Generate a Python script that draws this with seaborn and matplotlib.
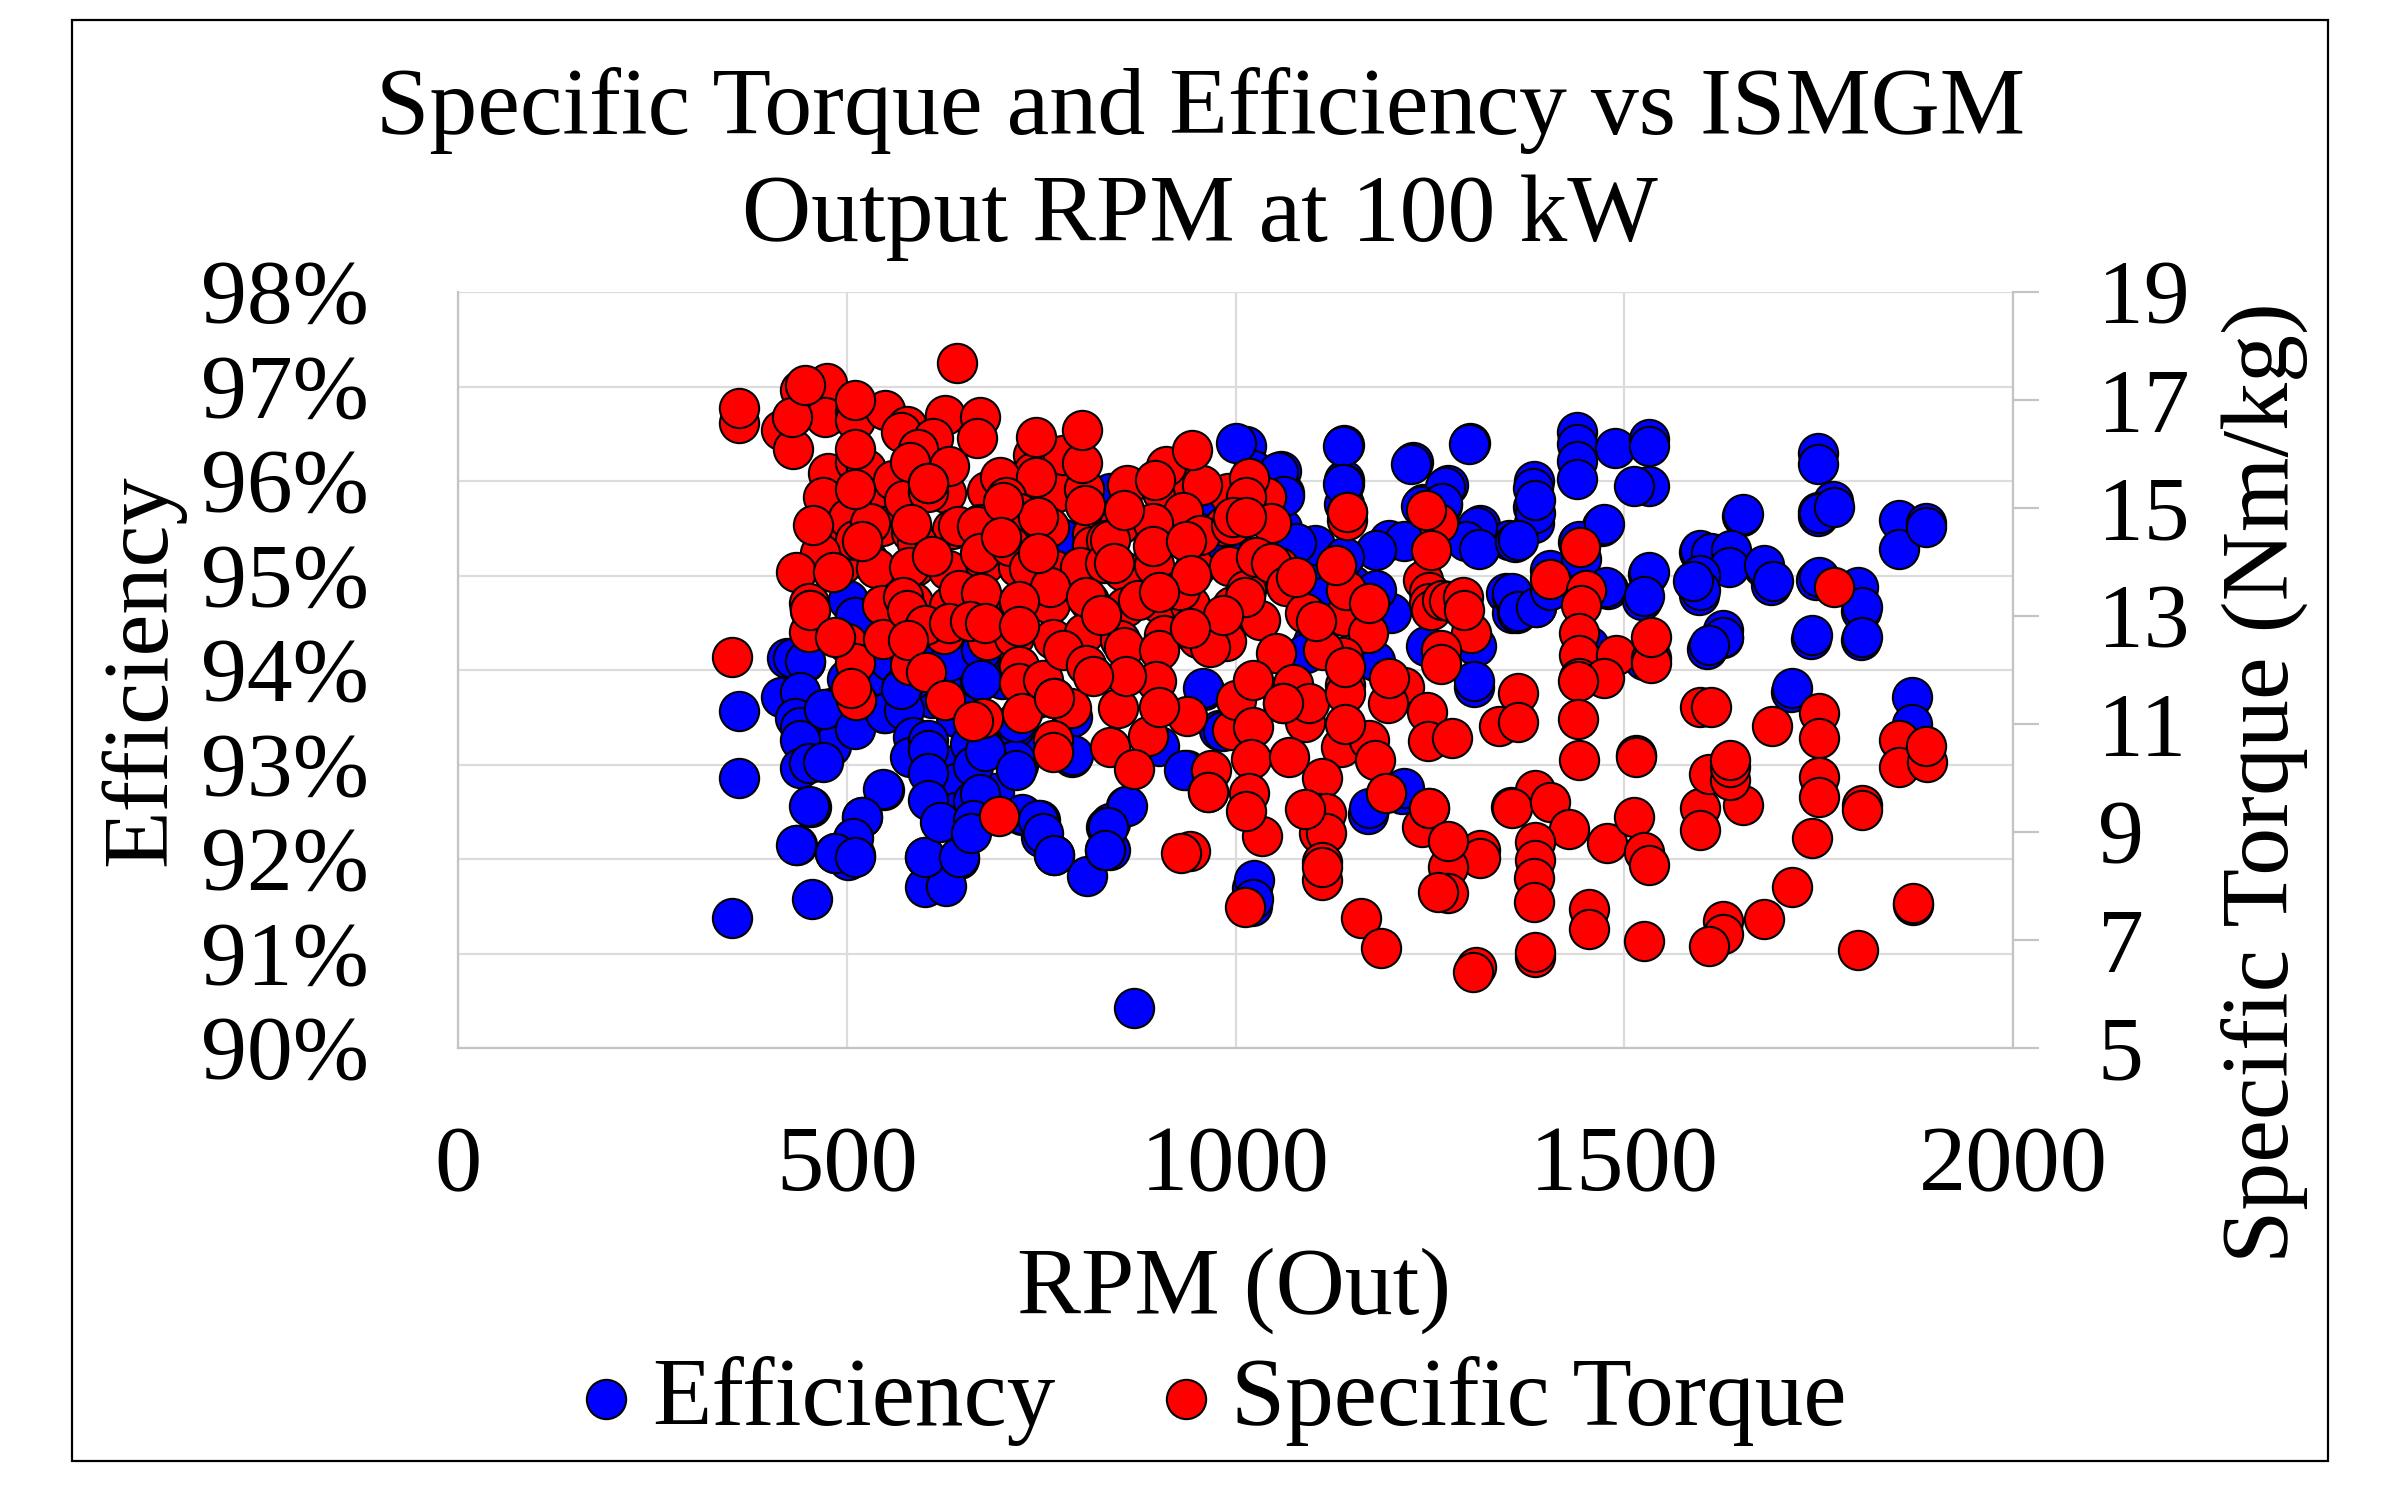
import matplotlib
matplotlib.use('Agg')
import matplotlib.pyplot as plt
from matplotlib.patches import Rectangle
import pandas as pd
import seaborn as sns

# Values, later entries are drawn on top
eff_rpm = [
    530, 555, 610, 640, 660, 690, 700, 745, 745, 790, 610, 585,
    520, 500, 480, 480, 625, 640, 640, 690, 720, 1100, 1150, 1200,
    1260, 1090, 1100, 1180, 1020, 1060,
    1013, 1022, 1059, 1063, 1012, 1139, 1139, 1140, 1140, 1228, 1302, 1273,
    1241, 1266, 1314, 1294, 1314, 1296, 1352, 1197, 1217, 1102, 1078, 994,
    1181, 1140, 1181, 1116, 1348, 1356, 1245, 1309, 1091, 839, 1000, 527,
    776, 960, 987, 960, 790, 901, 979, 717, 717, 501, 511, 423,
    446, 672, 672, 632, 571, 571, 548, 511, 675, 1055, 1062, 1138,
    1138, 1226, 1300, 1270, 1238, 1265, 1310, 1296, 1313, 1360, 1384, 1382,
    1382, 1384, 1439, 1439, 1439, 1439, 1488, 1532, 1532, 1532, 1513, 1472,
    1441, 1406, 1479, 1530, 1523, 1355, 1362, 1386, 1651, 1749, 1749, 1768,
    1749, 1749, 1853, 1853, 1888, 1888, 1627, 1607, 1740, 1804, 1804, 1799,
    1747, 1678, 1689, 1596, 1634, 1596, 1596, 1870, 1870, 1714, 1307, 1214,
    1170, 1021, 1021, 1653, 1750, 1770, 1385, 1385, 1363, 1442, 1474, 1405,
    1444, 1476, 1532, 1525, 1356, 1363, 1386, 1405, 1597, 1611, 1637, 1635,
    1597, 1597, 1588, 1680, 1691, 1750, 1800, 1806, 1806, 1742, 1627, 1627,
    1609, 1716, 1525, 1455, 958, 1307, 937, 984, 859, 838,
    838, 1172, 1217, 1024, 1022, 352, 455, 436, 511, 485, 501, 600,
    644, 600, 628, 767, 809, 832, 834, 860, 870, 725, 749, 750,
    548, 519, 454, 934, 362, 362, 431, 446, 416, 440, 433, 440,
    440, 440, 452, 469, 471, 510, 510, 549, 573, 570, 452, 547,
    520, 435, 508, 485, 510, 600, 645, 585, 581, 605, 605, 605,
    605, 620, 658, 662, 678, 718, 673, 673, 662, 671, 662, 660,
    725, 746, 752, 767, 791, 718, 836, 832,
]
eff_values = [
    93.90, 94.10, 93.70, 93.50, 93.80, 93.30, 93.90, 93.70, 93.20, 93.50, 94.05, 93.90,
    93.60, 93.90, 93.60, 93.20, 93.00, 92.80, 92.50, 92.70, 93.00, 94.70, 94.90, 94.60,
    94.70, 95.10, 94.30, 94.10, 95.70, 95.50,
    96.37, 96.12, 96.11, 95.87, 95.94, 96.38, 96.01, 95.97, 95.76, 96.20, 96.40, 95.96,
    95.76, 95.75, 95.53, 95.41, 95.30, 95.38, 95.38, 95.38, 95.36, 95.32, 95.34, 95.38,
    95.27, 95.20, 94.85, 94.78, 94.81, 94.60, 94.25, 94.25, 94.18, 95.87, 96.40, 95.16,
    95.40, 95.70, 95.20, 93.79, 93.08, 93.20, 93.37, 93.40, 93.05, 94.74, 94.56, 94.13,
    94.08, 94.14, 93.89, 94.10, 93.82, 93.61, 93.54, 93.40, 93.18, 96.09, 95.84, 96.37,
    95.97, 96.18, 96.39, 95.94, 95.74, 95.77, 95.51, 95.37, 95.28, 95.35, 96.00, 95.93,
    95.72, 95.56, 96.52, 96.39, 96.21, 96.02, 96.35, 96.44, 96.37, 95.95, 95.95, 95.52,
    95.35, 95.04, 94.86, 95.02, 94.74, 94.78, 94.60, 94.67, 95.63, 96.30, 96.18, 95.79,
    95.67, 95.63, 95.59, 95.28, 95.56, 95.51, 94.34, 94.22, 94.33, 94.32, 94.62, 94.83,
    94.95, 95.09, 94.90, 95.25, 95.25, 94.97, 94.79, 93.71, 93.43, 93.77, 93.82, 92.69,
    92.48, 91.69, 91.50, 95.65, 95.66, 95.73, 95.66, 95.80, 95.38, 95.36, 95.55, 95.06,
    95.17, 94.88, 95.04, 94.78, 94.81, 94.62, 94.67, 94.85, 95.27, 95.24, 95.27, 95.09,
    95.01, 94.85, 94.94, 95.11, 94.94, 94.98, 94.88, 94.67, 94.35, 94.37, 94.42, 94.35,
    94.26, 93.81, 94.11, 94.25, 93.81, 93.88, 92.94, 93.35, 92.56, 92.38,
    92.10, 92.54, 92.75, 91.78, 91.58, 91.38, 91.58, 92.15, 92.04, 92.06, 91.99, 92.02,
    92.00, 91.70, 91.71, 92.04, 91.82, 92.09, 92.34, 92.56, 90.42, 92.47, 92.41, 92.23,
    92.73, 92.44, 92.55, 92.94, 93.57, 92.86, 94.13, 94.09, 93.71, 93.77, 93.49, 93.40,
    93.26, 92.96, 93.02, 93.03, 93.59, 93.38, 94.56, 93.54, 93.58, 93.80, 92.56, 92.74,
    92.44, 92.15, 92.22, 92.06, 92.02, 92.02, 92.02, 93.29, 93.08, 93.26, 93.15, 92.91,
    92.62, 92.39, 93.22, 92.98, 93.14, 92.94, 94.21, 93.89, 92.61, 92.69, 92.41, 92.27,
    92.48, 92.41, 92.27, 92.04, 93.10, 93.45, 92.34, 92.10,
]

torque_rpm = [
    495, 540, 590, 628, 680, 715, 770, 805, 860, 905, 945, 990,
    500, 545, 582, 635, 672, 725, 760, 815, 850, 900, 950, 985,
    492, 538, 588, 630, 678, 720, 768, 808, 855, 895, 948, 992,
    545, 585, 632, 675, 722, 762, 812, 858, 902, 942, 995,
    575, 625, 680, 715, 765, 805, 852, 908, 952, 988,
    361, 416, 431, 440, 474, 472, 430, 510, 510, 549, 577, 570,
    626, 671, 611, 592, 740, 739, 778, 802, 476, 470, 510, 525,
    560, 573, 632, 697, 744, 705, 722, 746, 502, 510, 530, 465,
    435, 590, 580, 643, 667, 671, 710, 735, 815, 834, 800, 832,
    761, 645, 673, 808, 722, 572, 452, 911, 957, 932, 894, 838,
    844, 894, 954, 928, 874, 967, 857, 902, 1031, 1014, 1012, 1039,
    1018, 1014, 1046, 994, 997, 1026, 1056, 1046, 1065, 1089, 1140, 1142,
    1144, 1170, 1138, 1112, 1241, 1249, 1260, 1249, 1251, 1266, 1275, 1292,
    1303, 1264, 1052, 887, 838, 849, 937, 898, 859, 1074, 1061, 995,
    1001, 1022, 1089, 1095, 1020, 1141, 1141, 1141, 1136, 1172, 1179, 1217,
    1196, 1246, 1264, 1248, 1279, 1339, 1111, 969, 965, 1018, 1108, 1117,
    1108, 1117, 1034, 1111, 1111, 1240, 1249, 1314, 1314, 1273, 1273, 941,
    1162, 1354, 1443, 1405, 1451, 1445, 1442, 1442, 1442, 1489, 1474, 1534,
    1534, 1534, 1441, 1441, 1597, 1611, 1770, 1690, 1750, 1750, 1853, 1363,
    1363, 1442, 1515, 1385, 1356, 1404, 1429, 1385, 1385, 1384, 1384, 1478,
    1513, 1525, 1532, 1455, 1455, 1525, 1385, 1385, 1597, 1597, 1653, 1750,
    1750, 1806, 1806, 1742, 1853, 1890, 1716, 1680, 1627, 1627, 1609, 1872,
    1872, 1800, 1609, 1636, 1636, 1636, 1515, 453, 452, 500, 510, 547,
    577, 600, 581, 512, 632, 658, 722, 722, 752, 767, 789, 778,
    808, 827, 765, 675, 362, 446, 510, 510, 581, 510, 605, 605,
    605, 701, 667, 642, 744, 802, 456, 482, 583, 610, 698, 746,
    806, 520, 944, 896, 857, 936, 943, 902, 984, 941, 1014, 1078,
    1104, 1129, 1144, 1144, 1251, 1245, 1294, 1172, 870, 901, 1022, 1061,
    1141, 1197, 1069, 965, 1014, 1089, 1111, 1193, 1249, 1273, 1260, 1012,
    930, 353, 453, 485, 579, 602, 627, 506, 662, 678, 722, 725,
    767, 765, 817, 696, 1187, 1309, 1305, 1888,
]
torque_values = [
    15.30, 15.25, 15.35, 15.28, 15.32, 15.40, 15.30, 15.36, 15.42, 15.30, 15.38, 15.28,
    14.60, 14.66, 14.55, 14.62, 14.70, 14.58, 14.64, 14.52, 14.68, 14.60, 14.56, 14.66,
    13.95, 13.88, 13.92, 13.85, 13.98, 13.90, 13.86, 13.96, 13.84, 13.94, 13.88, 13.92,
    13.20, 13.26, 13.18, 13.24, 13.15, 13.22, 13.28, 13.16, 13.25, 13.20, 13.18,
    12.60, 12.66, 12.55, 12.62, 12.58, 12.68, 12.56, 12.64, 12.60, 12.54,
    16.58, 16.44, 16.10, 17.18, 17.31, 16.68, 16.69, 16.78, 16.63, 16.81, 16.51, 16.41,
    16.72, 16.69, 16.29, 16.09, 15.98, 15.67, 15.98, 15.83, 15.64, 15.21, 15.86, 15.73,
    15.52, 15.15, 15.77, 15.58, 15.58, 15.21, 14.90, 14.84, 14.81, 14.41, 14.72, 14.16,
    13.81, 14.35, 13.91, 14.66, 14.66, 14.16, 14.29, 13.88, 14.29, 14.41, 13.91, 13.98,
    13.54, 13.48, 13.42, 13.36, 13.27, 13.36, 13.24, 15.77, 15.43, 14.93, 14.72, 14.41,
    13.98, 14.29, 14.50, 13.48, 13.30, 12.43, 12.43, 12.37, 12.93, 13.48, 13.36, 15.21,
    15.55, 15.21, 14.72, 14.69, 14.84, 14.10, 13.91, 13.98, 13.55, 13.05, 13.00, 13.48,
    14.93, 12.68, 12.25, 12.37, 13.67, 13.45, 14.72, 13.24, 13.11, 13.30, 13.27, 13.36,
    12.68, 12.37, 12.31, 10.77, 10.57, 11.29, 11.14, 11.80, 11.88, 11.74, 11.38, 10.89,
    11.44, 10.95, 11.04, 11.38, 10.36, 11.72, 11.57, 12.06, 10.58, 10.70, 10.33, 11.69,
    11.38, 11.23, 12.12, 10.69, 10.75, 10.96, 10.00, 10.15, 9.74, 9.72, 9.35, 9.35,
    8.98, 8.98, 8.93, 8.45, 8.11, 9.10, 9.44, 8.67, 8.52, 8.36, 7.87, 8.64,
    7.40, 9.47, 14.27, 13.68, 13.48, 13.20, 12.68, 12.28, 11.85, 12.28, 11.85, 12.22,
    12.13, 12.62, 11.79, 11.10, 11.32, 11.32, 13.53, 10.97, 11.20, 10.74, 10.71, 11.57,
    11.03, 10.34, 10.43, 9.77, 9.45, 9.56, 9.05, 8.82, 8.48, 8.14, 7.71, 8.79,
    9.28, 8.63, 8.39, 7.58, 7.21, 6.98, 6.69, 6.77, 9.44, 9.03, 9.50, 10.02,
    9.65, 9.50, 9.40, 8.88, 10.21, 10.30, 7.99, 7.38, 7.35, 7.12, 6.89, 7.65,
    7.68, 6.81, 10.08, 9.96, 10.20, 10.33, 10.39, 13.11, 12.71, 12.50, 12.13, 12.57,
    13.11, 12.84, 12.10, 11.45, 12.87, 12.90, 12.07, 11.76, 11.82, 11.48, 11.30, 12.37,
    12.10, 13.02, 10.71, 11.11, 16.85, 17.28, 17.00, 16.10, 15.86, 15.36, 15.30, 15.46,
    15.46, 15.12, 16.29, 17.68, 16.32, 16.44, 14.69, 13.82, 14.70, 14.11, 14.47, 14.16,
    15.06, 14.38, 16.07, 15.52, 14.96, 14.38, 13.76, 13.45, 13.02, 12.77, 14.84, 13.73,
    12.90, 13.95, 14.78, 14.93, 14.22, 14.96, 13.11, 13.24, 10.17, 11.32, 11.81, 11.38,
    11.00, 11.85, 10.38, 9.74, 9.38, 9.42, 8.36, 9.73, 9.44, 8.84, 7.88, 7.62,
    8.62, 12.24, 13.11, 12.61, 12.56, 11.97, 11.45, 11.66, 11.05, 12.87, 12.82, 11.20,
    11.48, 10.49, 11.88, 9.29, 6.85, 6.50, 6.40, 10.60,
]

eff_ticks = [90, 91, 92, 93, 94, 95, 96, 97, 98]
eff_tick_labels = ['90%', '91%', '92%', '93%', '94%', '95%', '96%', '97%', '98%']
torque_ticks = [5, 7, 9, 11, 13, 15, 17, 19]
rpm_ticks = [0, 500, 1000, 1500, 2000]

sns.set_theme(style='white')
plt.rcParams['font.family'] = ['Liberation Serif', 'DejaVu Serif']
plt.rcParams['text.color'] = 'black'
plt.rcParams['axes.labelcolor'] = 'black'
plt.rcParams['xtick.color'] = 'black'
plt.rcParams['ytick.color'] = 'black'

W, H = 2398, 1486
GRAY = '#c4c4c4'
fig = plt.figure(figsize=(W / 100, H / 100), dpi=100, facecolor='white')
fig.add_artist(Rectangle((72 / W, 1 - 1461 / H), 2256 / W, 1441 / H, fill=False,
                         edgecolor='black', linewidth=1.6, transform=fig.transFigure))

ax = fig.add_axes([458 / W, 1 - 1048 / H, 1555 / W, 756 / H])
ax2 = ax.twinx()

eff_df = pd.DataFrame({'rpm': eff_rpm, 'value': eff_values})
torque_df = pd.DataFrame({'rpm': torque_rpm, 'value': torque_values})

marker_kw = dict(x='rpm', y='value', s=800, edgecolor='black', linewidth=1.5, clip_on=False)
sns.scatterplot(data=eff_df, color='#0000ff', ax=ax, label='Efficiency', legend=False, **marker_kw)
sns.scatterplot(data=torque_df, color='#ff0000', ax=ax2, label='Specific Torque', legend=False, **marker_kw)

ax.set_xlim(0, 2000)
ax.set_ylim(90, 98)
ax2.set_ylim(5, 19)
ax.set_xticks(rpm_ticks)
ax.set_yticks(eff_ticks)
ax.set_yticklabels(eff_tick_labels)
ax2.set_yticks(torque_ticks)

ax.grid(True, color='#dcdcdc', linewidth=1.6)
ax2.grid(False)
ax.set_axisbelow(True)
for a in (ax, ax2):
    for name, spine in a.spines.items():
        spine.set_visible(name in ('bottom', 'left', 'right') and (a is ax2) == (name == 'right'))
        spine.set_color(GRAY)
        spine.set_linewidth(1.6)

ax.tick_params(axis='x', length=0, pad=56, labelsize=68)
ax.tick_params(axis='y', length=0, pad=64, labelsize=66)
ax2.tick_params(axis='y', length=19, width=1.6, color=GRAY, pad=42, labelsize=66)

ax.set_xlabel('RPM (Out)', fontsize=69)
ax.xaxis.set_label_coords((1234 - 458) / 1555, (1048 - 1247) / 756, transform=ax.transAxes)
ax.set_ylabel('Efficiency', fontsize=68)
ax.yaxis.set_label_coords((185 - 458) / 1555, 0.5)
ax2.set_ylabel('Specific Torque (Nm/kg)', fontsize=69, rotation=90)
ax2.yaxis.set_label_coords((2221 - 458) / 1555, 0.351)

fig.text(1200 / W, 1 - 110 / H, 'Specific Torque and Efficiency vs ISMGM', fontsize=69,
         ha='center', va='center')
fig.text(1200 / W, 1 - 218 / H, 'Output RPM at 100 kW', fontsize=69, ha='center', va='center')

handles = [ax.collections[0], ax2.collections[0]]
fig.legend(handles, ['Efficiency', 'Specific Torque'], ncol=2, loc='center',
           bbox_to_anchor=(1178 / W, 1 - 1401 / H), frameon=False, fontsize=70,
           handletextpad=-0.53, columnspacing=0.34, scatterpoints=1, markerscale=1.0)

plt.savefig('out.png', dpi=100, facecolor='white')
